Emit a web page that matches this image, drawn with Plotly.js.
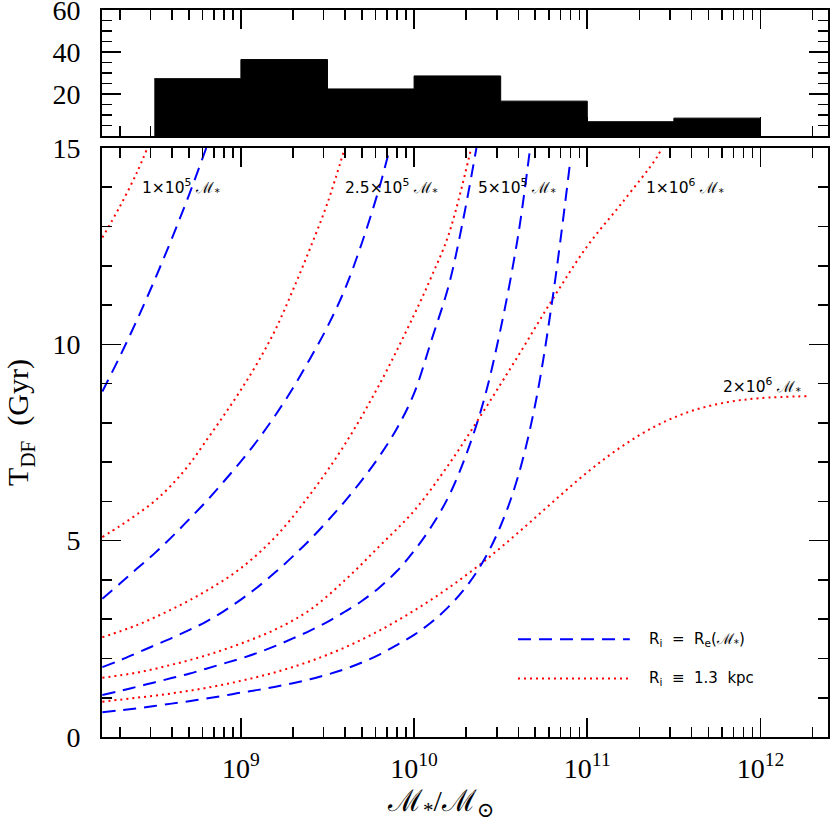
<!DOCTYPE html>
<html>
<head>
<meta charset="utf-8">
<script src="https://cdn.plot.ly/plotly-3.0.1.min.js"></script>
<style>
  body { margin: 0; background: #fff; }
  #plot { width: 831px; height: 824px; }
</style>
</head>
<body>
<div id="plot"></div>
<script>
// Load in data (x values are log10 of stellar mass, y is T_DF in Gyr)

// histogram of galaxy masses, half-dex bins
var histEdges = [8.5, 9.0, 9.5, 10.0, 10.5, 11.0, 11.5, 12.0];
var histCounts = [27.3, 36.4, 22.4, 28.6, 16.6, 6.8, 8.5];

// R_i = R_e(M*) curves, one per GC mass
var re1e5x = [8.2, 8.3, 8.4, 8.5, 8.6, 8.7, 8.8];
var re1e5y = [8.8, 9.68, 10.62, 11.62, 12.68, 13.8, 15.0];
var re25e5x = [8.2, 8.3, 8.4, 8.5, 8.6, 8.7, 8.8, 8.9, 9.0, 9.1, 9.2, 9.3, 9.4, 9.5, 9.6, 9.7, 9.8, 9.86];
var re25e5y = [3.52, 3.9, 4.29, 4.67, 5.09, 5.54, 6.0, 6.5, 7.02, 7.58, 8.2, 8.88, 9.64, 10.45, 11.4, 12.6, 14.0, 15.0];
var re5e5x = [8.2, 8.3, 8.4, 8.5, 8.6, 8.7, 8.8, 8.9, 9.0, 9.1, 9.2, 9.3, 9.4, 9.5, 9.6, 9.7, 9.8, 9.9, 10.0, 10.1, 10.2, 10.28, 10.36];
var re5e5y = [1.78, 1.95, 2.14, 2.33, 2.52, 2.72, 2.94, 3.2, 3.5, 3.83, 4.2, 4.6, 5.03, 5.5, 6.0, 6.55, 7.15, 7.85, 8.75, 10.1, 11.5, 13.1, 15.0];
var re1e6x = [8.2, 8.3, 8.4, 8.5, 8.6, 8.7, 8.8, 8.9, 9.0, 9.1, 9.2, 9.3, 9.4, 9.5, 9.6, 9.7, 9.8, 9.9, 10.0, 10.1, 10.2, 10.3, 10.4, 10.5, 10.6, 10.67];
var re1e6y = [1.07, 1.17, 1.28, 1.39, 1.5, 1.61, 1.74, 1.87, 2.0, 2.15, 2.32, 2.51, 2.71, 2.93, 3.19, 3.47, 3.81, 4.22, 4.74, 5.36, 6.13, 7.18, 8.53, 10.4, 12.75, 15.0];
var re2e6x = [8.2, 8.3, 8.4, 8.5, 8.6, 8.7, 8.8, 8.9, 9.0, 9.1, 9.2, 9.3, 9.4, 9.5, 9.6, 9.7, 9.8, 9.9, 10.0, 10.1, 10.2, 10.3, 10.4, 10.5, 10.6, 10.7, 10.8, 10.9];
var re2e6y = [0.63, 0.68, 0.73, 0.79, 0.85, 0.91, 0.98, 1.05, 1.13, 1.2, 1.28, 1.37, 1.47, 1.59, 1.73, 1.9, 2.1, 2.34, 2.6, 2.92, 3.32, 3.82, 4.48, 5.38, 6.63, 8.48, 11.18, 14.6];

// R_i = 1.3 kpc curves
var rk1e5x = [8.2, 8.3, 8.4, 8.46];
var rk1e5y = [12.72, 13.5, 14.38, 15.0];
var rk25e5x = [8.2, 8.3, 8.4, 8.5, 8.6, 8.7, 8.8, 8.9, 9.0, 9.1, 9.2, 9.3, 9.4, 9.5, 9.6];
var rk25e5y = [5.09, 5.37, 5.67, 6.0, 6.42, 6.93, 7.55, 8.18, 8.84, 9.56, 10.38, 11.38, 12.45, 13.6, 15.0];
var rk5e5x = [8.2, 8.4, 8.6, 8.8, 9.0, 9.2, 9.4, 9.6, 9.8, 10.0, 10.1, 10.2, 10.33];
var rk5e5y = [2.54, 2.85, 3.25, 3.72, 4.3, 5.1, 6.18, 7.45, 8.98, 10.75, 11.72, 12.8, 15.0];
var rk1e6x = [8.2, 8.4, 8.6, 8.8, 9.0, 9.2, 9.4, 9.6, 9.8, 10.0, 10.2, 10.4, 10.6, 10.8, 11.0, 11.2, 11.4, 11.43];
var rk1e6y = [1.51, 1.64, 1.84, 2.08, 2.38, 2.74, 3.24, 3.99, 4.86, 5.76, 6.94, 8.29, 9.7, 11.15, 12.5, 13.6, 14.75, 15.0];
var rk2e6x = [8.2, 8.4, 8.6, 8.8, 9.0, 9.2, 9.4, 9.6, 9.8, 10.0, 10.2, 10.4, 10.6, 10.8, 11.0, 11.2, 11.4, 11.6, 11.8, 12.0, 12.28];
var rk2e6y = [0.9, 1.0, 1.11, 1.25, 1.43, 1.65, 1.93, 2.28, 2.71, 3.22, 3.8, 4.46, 5.2, 5.98, 6.74, 7.4, 7.93, 8.3, 8.52, 8.63, 8.68];

// curve labels
var M = '<span style="font-family:Liberation Serif">ℳ</span>';
var labelText = ['1×10<sup>5</sup> ' + M + '<sub>*</sub>', '2.5×10<sup>5</sup> ' + M + '<sub>*</sub>',
  '5×10<sup>5</sup> ' + M + '<sub>*</sub>', '1×10<sup>6</sup> ' + M + '<sub>*</sub>', '2×10<sup>6</sup> ' + M + '<sub>*</sub>'];
var labelX = [8.42, 9.59, 10.355, 11.325, 11.775];
var labelY = [14.0, 14.0, 14.0, 14.0, 8.93];

// legend texts
var legendText = ['R<sub>i</sub>  =  R<sub>e</sub>(' + M + '<sub>*</sub>)', 'R<sub>i</sub>  ≡  1.3  kpc'];
var legendY = [2.49, 1.49];

var xTickVals = [1e9, 1e10, 1e11, 1e12];
var xTickText = ['10<sup>9</sup>', '10<sup>10</sup>', '10<sup>11</sup>', '10<sup>12</sup>'];

function unlog(a) { return a.map(function (v) { return Math.pow(10, v); }); }

var serif = 'Liberation Serif, DejaVu Serif, serif';
var sans = 'DejaVu Sans, Liberation Sans, sans-serif';

// minor ticks at 2..9 of each decade
var minorX = [];
for (var d = 8; d <= 12; d++) {
  for (var k = 2; k <= 9; k++) minorX.push(k * Math.pow(10, d));
}

// Create the traces
var histY = histCounts.concat([histCounts[histCounts.length - 1]]);
var traceHist = {
  x: unlog(histEdges), y: histY, xaxis: 'x2', yaxis: 'y2',
  mode: 'lines', line: {shape: 'hv', color: '#000', width: 1},
  fill: 'tozeroy', fillcolor: '#000', type: 'scatter'
};

function blueTrace(xs, ys) {
  return {x: unlog(xs), y: ys, mode: 'lines', type: 'scatter',
    line: {color: '#0000ff', width: 2, dash: '13px,8px', shape: 'spline', smoothing: 1}};
}
function redTrace(xs, ys) {
  return {x: unlog(xs), y: ys, mode: 'lines', type: 'scatter',
    line: {color: '#ff0000', width: 2, dash: '2px,4px', shape: 'spline', smoothing: 1}};
}

var dataArray = [
  traceHist,
  redTrace(rk1e5x, rk1e5y), redTrace(rk25e5x, rk25e5y), redTrace(rk5e5x, rk5e5y),
  redTrace(rk1e6x, rk1e6y), redTrace(rk2e6x, rk2e6y),
  blueTrace(re1e5x, re1e5y), blueTrace(re25e5x, re25e5y), blueTrace(re5e5x, re5e5y),
  blueTrace(re1e6x, re1e6y), blueTrace(re2e6x, re2e6y)
];

var axisCommon = {
  showline: true, linecolor: '#000', linewidth: 2, mirror: 'allticks',
  ticks: 'inside', tickcolor: '#000', tickwidth: 1.6, ticklen: 19,
  showgrid: false, zeroline: false, ticklabeloverflow: 'allow',
  tickfont: {family: serif, size: 28, color: '#000'}
};

var annotations = labelText.map(function (t, i) {
  return {x: labelX[i], y: labelY[i], xref: 'x', yref: 'y', text: t, showarrow: false,
    xanchor: 'left', yanchor: 'middle', font: {family: sans, size: 15.5, color: '#000'}};
});
legendText.forEach(function (t, i) {
  annotations.push({x: 11.343, y: legendY[i], xref: 'x', yref: 'y', text: t,
    showarrow: false, xanchor: 'left', yanchor: 'middle', font: {family: sans, size: 15, color: '#000'}});
});
annotations.push({x: -0.112, y: 0.433, xref: 'paper', yref: 'paper', text: 'T<sub>DF</sub>  (Gyr)',
  textangle: -90, showarrow: false, xanchor: 'center', yanchor: 'middle',
  font: {family: serif, size: 30, color: '#000'}});
annotations.push({x: 0.4656, y: -0.062, xref: 'paper', yref: 'paper', text: 'ℳ<sub>*</sub>/ℳ<sub>⊙</sub>',
  showarrow: false, xanchor: 'center', yanchor: 'top', font: {family: serif, size: 30, color: '#000'}});

// Define our plot layout
var layout = {
  width: 831, height: 824,
  margin: {l: 102, r: 3, t: 10, b: 87},
  paper_bgcolor: '#fff', plot_bgcolor: '#fff',
  showlegend: false,
  xaxis: Object.assign({}, axisCommon, {
    type: 'log', range: [8.198, 12.39], anchor: 'y',
    tickmode: 'array', tickvals: xTickVals, ticktext: xTickText, ticklabelstandoff: 5,
    minor: {tickmode: 'array', tickvals: minorX, ticks: 'inside', ticklen: 10, tickwidth: 1.6, tickcolor: '#000'}
  }),
  yaxis: Object.assign({}, axisCommon, {
    domain: [0, 0.8102], range: [0, 15], tickvals: [0, 5, 10, 15], ticklabelstandoff: 14,
    minor: {dtick: 1, ticks: 'inside', ticklen: 10, tickwidth: 1.6, tickcolor: '#000'}
  }),
  xaxis2: Object.assign({}, axisCommon, {
    type: 'log', range: [8.198, 12.39], anchor: 'y2', showticklabels: false,
    tickmode: 'array', tickvals: xTickVals,
    minor: {tickmode: 'array', tickvals: minorX, ticks: 'inside', ticklen: 10, tickwidth: 1.6, tickcolor: '#000'}
  }),
  yaxis2: Object.assign({}, axisCommon, {
    domain: [0.8267, 1], range: [0, 60], anchor: 'x2',
    tickvals: [0, 20, 40, 60], ticktext: ['', '20', '40', '60'], ticklabelstandoff: 14,
    minor: {dtick: 5, ticks: 'inside', ticklen: 10, tickwidth: 1.6, tickcolor: '#000'}
  }),
  shapes: [
    {type: 'line', xref: 'paper', yref: 'y', x0: 0.573, x1: 0.727, y0: legendY[0], y1: legendY[0],
      line: {color: '#0000ff', width: 2, dash: '13px,8px'}},
    {type: 'line', xref: 'paper', yref: 'y', x0: 0.573, x1: 0.727, y0: legendY[1], y1: legendY[1],
      line: {color: '#ff0000', width: 2, dash: '2px,4px'}}
  ],
  annotations: annotations
};

Plotly.newPlot('plot', dataArray, layout, {staticPlot: true});
</script>
</body>
</html>
